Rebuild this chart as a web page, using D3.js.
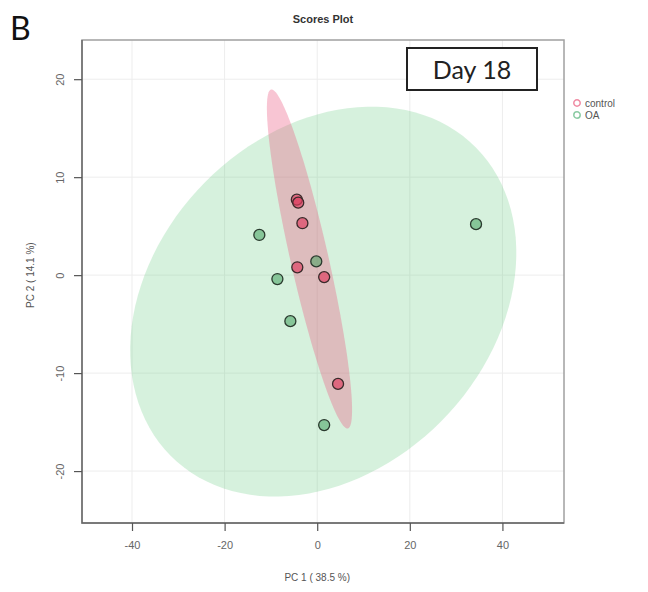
<!DOCTYPE html>
<html>
<head>
<meta charset="utf-8">
<script src="https://cdn.jsdelivr.net/npm/d3@7"></script>
<style>
  html, body { margin: 0; padding: 0; background: #fff; }
  svg { display: block; font-family: "Liberation Sans", Arial, sans-serif; }
</style>
</head>
<body>
<svg id="chart" width="648" height="592"></svg>
<script>
// PCA scores, day 18
const groups = ["control", "OA"];
const controlPC1 = [-4.4, -4.1, -3.2, -4.3, 1.5, 4.5];
const controlPC2 = [7.7, 7.4, 5.3, 0.8, -0.2, -11.1];
const oaPC1 = [-12.5, -8.6, -0.2, -5.8, 34.3, 1.5];
const oaPC2 = [4.1, -0.4, 1.4, -4.7, 5.2, -15.3];
// 95% confidence regions per group: centre, half-extent on each axis, PC1/PC2 correlation
const ellipseCenterX = [-1.67, 1.3];
const ellipseCenterY = [1.65, -2.7];
const ellipseHalfX = [9.2, 41.7];
const ellipseHalfY = [17.3, 19.9];
const ellipseCorr = [-0.89, 0.25];
const xTicks = [-40, -20, 0, 20, 40];
const yTicks = [-20, -10, 0, 10, 20];
const xLabel = "PC 1 ( 38.5 %)";
const yLabel = "PC 2 ( 14.1 %)";

const series = [
  { name: groups[0], xs: controlPC1, ys: controlPC2, k: 0,
    ellipseFill: "rgba(235,90,130,0.35)", pointFill: "rgba(222,65,98,0.68)", pointStroke: "#3a2a2a", legend: "rgba(235,110,140,0.8)" },
  { name: groups[1], xs: oaPC1, ys: oaPC2, k: 1,
    ellipseFill: "rgba(90,200,120,0.25)", pointFill: "rgba(70,160,95,0.55)", pointStroke: "#2a3a2e", legend: "rgba(110,190,140,0.8)" }
];

const svg = d3.select("#chart");
const frame = { left: 82, top: 40, right: 564, bottom: 523 };

const x = d3.scaleLinear().domain([-50.8, 53.3]).range([frame.left, frame.right]);
const y = d3.scaleLinear().domain([-25.3, 24]).range([frame.bottom, frame.top]);

// Ellipse outline in data units (same parametrisation as ellipse::ellipse)
function ellipsePath(k) {
  const d = Math.acos(ellipseCorr[k]);
  return d3.range(0, 121).map(i => {
    const a = (i / 120) * 2 * Math.PI;
    return [ellipseCenterX[k] + ellipseHalfX[k] * Math.cos(a + d / 2),
            ellipseCenterY[k] + ellipseHalfY[k] * Math.cos(a - d / 2)];
  });
}

// Panel letter and title
svg.append("text").attr("x", 10).attr("y", 40)
  .style("font-family", "Lato, 'Open Sans', sans-serif").style("font-size", "32px").attr("fill", "#111").text("B");
svg.append("text").attr("x", (frame.left + frame.right) / 2).attr("y", 23)
  .attr("text-anchor", "middle").style("font-size", "11px").style("font-weight", "bold").attr("fill", "#333").text("Scores Plot");

// Grid
const plot = svg.append("g");
plot.selectAll(".gx").data(xTicks).join("line")
  .attr("x1", d => x(d)).attr("x2", d => x(d)).attr("y1", frame.top).attr("y2", frame.bottom)
  .attr("stroke", "#ededed").attr("stroke-width", 1);
plot.selectAll(".gy").data(yTicks).join("line")
  .attr("y1", d => y(d)).attr("y2", d => y(d)).attr("x1", frame.left).attr("x2", frame.right)
  .attr("stroke", "#ededed").attr("stroke-width", 1);

// Ellipses (OA underneath control)
const line = d3.line().x(d => x(d[0])).y(d => y(d[1])).curve(d3.curveLinearClosed);
[series[1], series[0]].forEach(s => {
  plot.append("path").attr("d", line(ellipsePath(s.k)))
    .attr("fill", s.ellipseFill).attr("stroke", "none");
});

// Points
series.forEach(s => {
  plot.selectAll(null).data(s.xs.map((v, i) => [v, s.ys[i]])).join("circle")
    .attr("cx", d => x(d[0])).attr("cy", d => y(d[1])).attr("r", 5.5)
    .attr("fill", s.pointFill).attr("stroke", s.pointStroke).attr("stroke-width", 1.3);
});

// Frame
svg.append("rect").attr("x", frame.left).attr("y", frame.top)
  .attr("width", frame.right - frame.left).attr("height", frame.bottom - frame.top)
  .attr("fill", "none").attr("stroke", "#a0a0a0").attr("stroke-width", 1.5);
// Axis lines along the left and bottom frame edges
svg.append("path")
  .attr("d", `M${frame.left},${frame.top}V${frame.bottom}H${frame.right}`)
  .attr("fill", "none").attr("stroke", "#666").attr("stroke-width", 1.4);

// Axes
const xAxis = d3.axisBottom(x).tickValues(xTicks).tickSize(8).tickPadding(10).tickFormat(d3.format("d"));
const gx = svg.append("g").attr("transform", `translate(0,${frame.bottom})`).call(xAxis);
gx.select(".domain").remove();
gx.selectAll(".tick line").attr("stroke", "#555").attr("stroke-width", 1.2);
gx.selectAll(".tick text").attr("fill", "#666").style("font-size", "11px")
  .text(d => d < 0 ? "-" + Math.abs(d) : d);

const yAxis = d3.axisLeft(y).tickValues(yTicks).tickSize(8).tickPadding(0);
const gy = svg.append("g").attr("transform", `translate(${frame.left},0)`).call(yAxis);
gy.select(".domain").remove();
gy.selectAll(".tick line").attr("stroke", "#555").attr("stroke-width", 1.2);
gy.selectAll(".tick text").attr("fill", "#666").style("font-size", "11px")
  .attr("x", null).attr("dy", null).attr("text-anchor", "middle")
  .attr("transform", "translate(-18,0) rotate(-90)").attr("y", 0)
  .text(d => d < 0 ? "-" + Math.abs(d) : d);

// Axis titles
svg.append("text").attr("x", x(0)).attr("y", 581).attr("text-anchor", "middle")
  .style("font-size", "10px").attr("fill", "#555").text(xLabel);
svg.append("text").attr("transform", `translate(34,${y(0)}) rotate(-90)`).attr("text-anchor", "middle")
  .style("font-size", "10px").attr("fill", "#555").text(yLabel);

// Day label box
svg.append("rect").attr("x", 407).attr("y", 48).attr("width", 130).attr("height", 42)
  .attr("fill", "#fff").attr("stroke", "#222").attr("stroke-width", 2);
svg.append("text").attr("x", 472).attr("y", 78.5).attr("text-anchor", "middle")
  .style("font-family", "Lato, 'Open Sans', sans-serif").style("font-size", "25px").attr("fill", "#222").text("Day 18");

// Legend
const leg = svg.append("g").attr("transform", "translate(577,103)");
series.forEach((s, i) => {
  leg.append("circle").attr("cx", 0).attr("cy", i * 12).attr("r", 3.2)
    .attr("fill", "none").attr("stroke", s.legend).attr("stroke-width", 1.5);
  leg.append("text").attr("x", 8).attr("y", i * 12 + 3.5).style("font-size", "10px")
    .attr("fill", "#555").text(s.name);
});
</script>
</body>
</html>
